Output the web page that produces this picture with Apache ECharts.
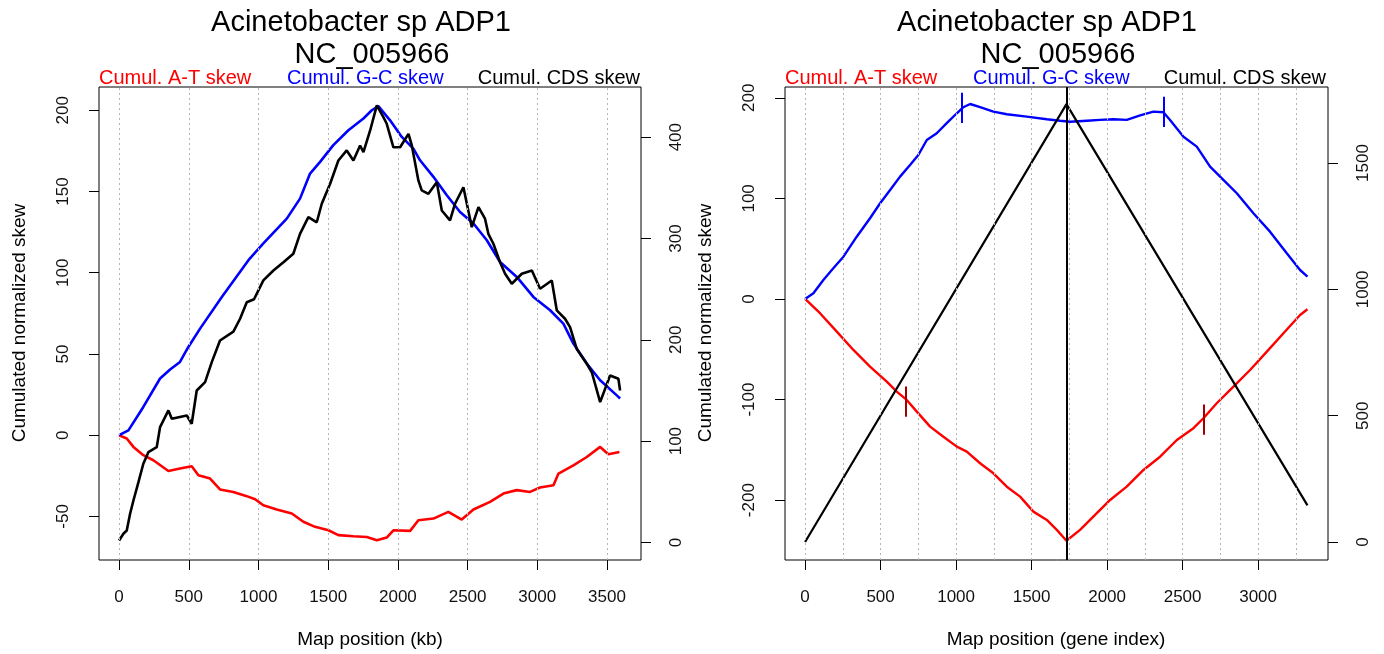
<!DOCTYPE html>
<html>
<head>
<meta charset="utf-8">
<title>Acinetobacter sp ADP1 NC_005966 - cumulated skews</title>
<script src="https://cdn.jsdelivr.net/npm/echarts@6/dist/echarts.min.js"></script>
<style>
  html, body { margin: 0; padding: 0; background: #ffffff; }
  #chart { width: 1384px; height: 654px; }
</style>
</head>
<body>
<div id="chart"></div>
<script>
// ---- left panel: map position in kb ----
const leftAtPos = [0, 55, 103, 174, 246, 354, 437, 521, 569, 653, 724, 820, 916, 976, 1035, 1131, 1239, 1322, 1406, 1502, 1573, 1681, 1777, 1849, 1920, 1968, 2088, 2147, 2255, 2362, 2458, 2542, 2661, 2757, 2853, 2948, 3020, 3116, 3152, 3259, 3355, 3451, 3510, 3589];
const leftAtSkew = [0, -2, -7.2, -12.3, -15.4, -22, -20.5, -19.1, -24.6, -26.7, -33.4, -34.9, -37.5, -39.4, -43.1, -45.7, -48.2, -53.3, -56.4, -58.5, -61.5, -62.2, -62.6, -64.6, -63, -58.5, -58.9, -52.3, -51.3, -47.2, -51.9, -45.7, -41, -35.9, -33.8, -34.9, -32.2, -30.8, -23.6, -18.5, -13.4, -7.2, -11.7, -10.3];

const leftGcPos = [0, 67, 174, 294, 366, 437, 497, 581, 737, 928, 1035, 1203, 1298, 1370, 1442, 1537, 1645, 1753, 1813, 1860, 1944, 2028, 2111, 2159, 2255, 2351, 2446, 2542, 2638, 2733, 2853, 2972, 3092, 3187, 3259, 3355, 3451, 3582, 3594];
const leftGcSkew = [0, 3, 17.4, 34.9, 40.4, 45.1, 54.3, 65.6, 85.1, 107.7, 118, 133.3, 145.6, 161, 168.2, 178.5, 187.7, 194.9, 200, 202.5, 193.8, 183.6, 176.4, 169.2, 159, 147.7, 137.4, 130.3, 120, 106.6, 97.4, 85.1, 76.9, 68.7, 56.4, 44.1, 33.8, 23.6, 22.6];

// CDS skew is read on the right-hand axis
const leftCdsPos = [0, 31, 55, 79, 103, 139, 174, 210, 270, 294, 354, 378, 486, 521, 557, 617, 665, 724, 820, 868, 916, 968, 1035, 1107, 1179, 1250, 1298, 1358, 1418, 1454, 1514, 1573, 1633, 1681, 1729, 1753, 1801, 1849, 1896, 1920, 1968, 2016, 2076, 2100, 2147, 2171, 2219, 2279, 2315, 2374, 2410, 2470, 2530, 2578, 2625, 2649, 2685, 2733, 2769, 2817, 2889, 2961, 3020, 3104, 3140, 3199, 3235, 3283, 3355, 3391, 3451, 3522, 3582, 3594];
const leftCdsSkew = [2, 8.6, 11.8, 28.3, 41.4, 59.5, 77.7, 89.1, 94, 113.8, 130.3, 122, 125.3, 117.1, 150, 158.2, 178, 199.3, 208, 220.8, 237, 240, 258.6, 268.4, 276.6, 284.9, 304.6, 321, 316, 334.3, 354, 377, 386.9, 377, 391.8, 385.2, 406.6, 431.3, 419.7, 413.2, 390, 390, 403.3, 391.8, 357.3, 347.4, 344.1, 355.6, 327.6, 317.8, 334.3, 350.6, 311.2, 330.9, 319.5, 304.6, 294.8, 276.6, 265.2, 255.3, 265.2, 268.4, 250.4, 258.6, 229, 220.8, 212.5, 191, 176.4, 168, 138.5, 164.8, 161.5, 150];

// ---- right panel: map position as gene index ----
const rightAtPos = [0, 99, 210, 320, 430, 541, 607, 673, 740, 828, 916, 1005, 1071, 1159, 1247, 1336, 1424, 1512, 1601, 1667, 1731, 1821, 1909, 2020, 2130, 2241, 2351, 2462, 2572, 2638, 2726, 2837, 2947, 3058, 3168, 3278, 3327];
const rightAtSkew = [0, -14.2, -32.5, -50.7, -67.3, -82.2, -92.1, -100.4, -112, -126.9, -136.9, -146.8, -151.8, -163.3, -173.3, -186.6, -196.5, -211.4, -219.7, -229.6, -240.3, -229.6, -216.4, -199.8, -186.6, -170, -156.8, -140.2, -128.5, -118.6, -103.7, -87.2, -70.6, -52.4, -34.1, -15.9, -10.2];

const rightGcPos = [0, 55, 121, 187, 254, 342, 430, 497, 563, 629, 695, 750, 806, 872, 938, 1005, 1048, 1093, 1159, 1247, 1336, 1468, 1601, 1689, 1755, 1866, 1954, 2042, 2130, 2219, 2307, 2373, 2417, 2506, 2594, 2682, 2770, 2859, 2969, 3079, 3190, 3278, 3327];
const rightGcSkew = [0, 5.7, 18.9, 30.5, 42, 61.9, 80.2, 95.1, 108.3, 121.6, 133.2, 143.1, 158, 164.7, 174.7, 184.6, 190.6, 193.8, 190.6, 186.2, 183.6, 181.2, 178.6, 177.2, 176.2, 177.2, 178, 178.6, 178, 182.5, 186.2, 185.6, 177.9, 161.3, 151.4, 131.5, 118.3, 105.1, 85.2, 66.9, 45.4, 28.8, 22.2];

const rightCdsPos = [0, 1731, 3327];
const rightCdsSkew = [0, 1733, 145];
const originGene = 1731;

// small vertical marks on the right panel curves
const rightGcMarkPos = [1038, 2373];
const rightGcMarkSkew = [190, 186];
const rightAtMarkPos = [667, 2638];
const rightAtMarkSkew = [-102, -120];

// ---- ticks and grid lines ----
const kbTicks = [0, 500, 1000, 1500, 2000, 2500, 3000, 3500];
const kbGrid = [0, 500, 1000, 1500, 2000, 2500, 3000, 3500];
const geneTicks = [0, 500, 1000, 1500, 2000, 2500, 3000];
const geneGrid = [0, 250, 500, 750, 1000, 1250, 1500, 1750, 2000, 2250, 2500, 2750, 3000, 3250];
const leftSkewTicks = [-50, 0, 50, 100, 150, 200];
const leftCdsTicks = [0, 100, 200, 300, 400];
const rightSkewTicks = [-200, -100, 0, 100, 200];
const rightCdsTicks = [0, 500, 1000, 1500];

const FONT = "'Liberation Sans', Arial, Helvetica, sans-serif";
const MARK_HALF = 15;

function zip (xs, ys) {
  return xs.map(function (x, i) { return [x, ys[i]]; });
}

function plain (v) {
  return String(v);
}

function xAxisFor (gridIndex, min, max, ticks) {
  return {
    type: 'value',
    gridIndex: gridIndex,
    position: 'bottom',
    min: min,
    max: max,
    axisLine: {show: false, onZero: false},
    splitLine: {show: false},
    axisTick: {show: true, length: 10, customValues: ticks, lineStyle: {color: '#000', width: 1}},
    axisLabel: {customValues: ticks, formatter: plain, margin: 29, fontSize: 17, color: '#111', fontFamily: FONT}
  };
}

function yAxisFor (gridIndex, position, min, max, ticks) {
  return {
    type: 'value',
    gridIndex: gridIndex,
    position: position,
    min: min,
    max: max,
    axisLine: {show: false, onZero: false},
    splitLine: {show: false},
    axisTick: {show: true, length: 10, customValues: ticks, lineStyle: {color: '#000', width: 1}},
    axisLabel: {customValues: ticks, formatter: plain, rotate: 90, margin: 27, fontSize: 17, color: '#111', fontFamily: FONT}
  };
}

function curve (name, xIdx, yIdx, xs, ys, color, width) {
  return {
    name: name,
    type: 'line',
    xAxisIndex: xIdx,
    yAxisIndex: yIdx,
    data: zip(xs, ys),
    showSymbol: false,
    symbol: 'none',
    z: 3,
    lineStyle: {color: color, width: width},
    itemStyle: {color: color}
  };
}

function gridLines (xIdx, yIdx, values) {
  return {
    type: 'line',
    xAxisIndex: xIdx,
    yAxisIndex: yIdx,
    data: [],
    z: 1,
    markLine: {
      silent: true,
      symbol: ['none', 'none'],
      label: {show: false},
      animation: false,
      lineStyle: {color: '#b4b4b4', type: [2, 3], width: 1},
      data: values.map(function (v) { return {xAxis: v}; })
    }
  };
}

function marks (xs, ys, color) {
  return {
    silent: true,
    symbol: ['none', 'none'],
    label: {show: false},
    animation: false,
    lineStyle: {color: color, type: 'solid', width: 2},
    data: xs.map(function (x, i) {
      return [{coord: [x, ys[i] - MARK_HALF]}, {coord: [x, ys[i] + MARK_HALF]}];
    })
  };
}

function text (str, x, y, size, color, align, rotation) {
  return {
    type: 'text',
    x: x,
    y: y,
    rotation: rotation || 0,
    silent: true,
    style: {
      text: str,
      fill: color,
      font: size + 'px ' + FONT,
      align: align,
      textAlign: align,
      verticalAlign: 'middle',
      textVerticalAlign: 'middle'
    }
  };
}

function panelTexts (cx, boxLeft, boxRight, gcLeft, yTitleX, xTitle) {
  return [
    text('Acinetobacter sp ADP1', cx - 9, 23, 29, '#000', 'center'),
    text('NC_005966', cx + 2, 55, 29, '#000', 'center'),
    text('Cumul. A-T skew', boxLeft, 78, 20, '#ff0000', 'left'),
    text('Cumul. G-C skew', gcLeft, 78, 20, '#0000ff', 'left'),
    text('Cumul. CDS skew', boxRight, 78, 20, '#000', 'right'),
    text('Cumulated normalized skew', yTitleX, 323, 19, '#000', 'center', Math.PI / 2),
    text(xTitle, cx, 640, 19, '#000', 'center')
  ];
}

let chart = echarts.init(document.getElementById('chart'), null, {renderer: 'canvas'});

let option = {
  animation: false,
  backgroundColor: '#ffffff',
  grid: [
    {left: 99, top: 87, width: 542, height: 473, show: true, borderColor: '#000', borderWidth: 1, backgroundColor: 'transparent'},
    {left: 785, top: 87, width: 543, height: 473, show: true, borderColor: '#000', borderWidth: 1, backgroundColor: 'transparent'}
  ],
  xAxis: [
    xAxisFor(0, -144, 3744, kbTicks),
    xAxisFor(1, -133, 3463, geneTicks)
  ],
  yAxis: [
    yAxisFor(0, 'left', -76.8, 214.3, leftSkewTicks),
    yAxisFor(0, 'right', -17.3, 449.5, leftCdsTicks),
    yAxisFor(1, 'left', -259.5, 210.7, rightSkewTicks),
    yAxisFor(1, 'right', -71, 1801, rightCdsTicks)
  ],
  graphic: panelTexts(370, 99, 640, 287, 20, 'Map position (kb)')
    .concat(panelTexts(1056, 785, 1326, 973, 706, 'Map position (gene index)')),
  series: [
    gridLines(0, 0, kbGrid),
    gridLines(1, 2, geneGrid),
    curve('Cumul. A-T skew', 0, 0, leftAtPos, leftAtSkew, '#ff0000', 2.6),
    curve('Cumul. G-C skew', 0, 0, leftGcPos, leftGcSkew, '#0000ff', 2.6),
    curve('Cumul. CDS skew', 0, 1, leftCdsPos, leftCdsSkew, '#000000', 2.6),
    Object.assign(curve('Cumul. A-T skew', 1, 2, rightAtPos, rightAtSkew, '#ff0000', 2.4), {
      markLine: marks(rightAtMarkPos, rightAtMarkSkew, '#a00000')
    }),
    Object.assign(curve('Cumul. G-C skew', 1, 2, rightGcPos, rightGcSkew, '#0000ff', 2.4), {
      markLine: marks(rightGcMarkPos, rightGcMarkSkew, '#0000ff')
    }),
    Object.assign(curve('Cumul. CDS skew', 1, 3, rightCdsPos, rightCdsSkew, '#000000', 2.2), {
      markLine: {
        silent: true,
        symbol: ['none', 'none'],
        label: {show: false},
        animation: false,
        lineStyle: {color: '#000', type: 'solid', width: 2},
        data: [{xAxis: originGene}]
      }
    })
  ]
};

chart.setOption(option);
</script>
</body>
</html>
